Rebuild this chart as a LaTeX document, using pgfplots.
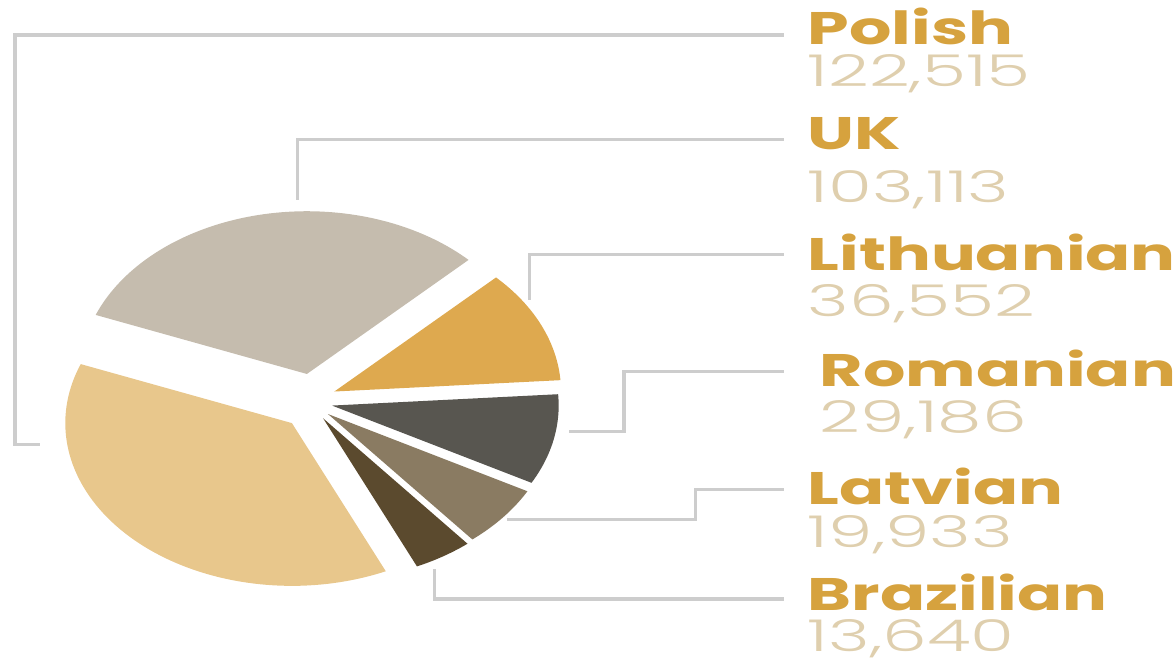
\documentclass[border=0pt]{standalone}
\usepackage{pgfplots}
\pgfplotsset{compat=1.18}
\usepackage{fontspec}
\setmainfont{Poppins}
\newfontfamily\namefont{Poppins}[UprightFont={* Bold}]
\newfontfamily\numfont{Poppins}[UprightFont={* Light}]
\definecolor{cPol}{HTML}{E8C78C}
\definecolor{cUK}{HTML}{C5BCAE}
\definecolor{cLit}{HTML}{DEA94F}
\definecolor{cRom}{HTML}{585650}
\definecolor{cLat}{HTML}{8A7B62}
\definecolor{cBra}{HTML}{5B4A2E}
\definecolor{cName}{HTML}{D6A23E}
\definecolor{cNum}{HTML}{DFCFAE}
\definecolor{cLead}{HTML}{CDCDCD}
% data
\newcommand\vPol{122515}
\newcommand\vUK{103113}
\newcommand\vLit{36552}
\newcommand\vRom{29186}
\newcommand\vLat{19933}
\newcommand\vBra{13640}
\edef\tot{\fpeval{\vPol+\vUK+\vLit+\vRom+\vLat+\vBra}}
\edef\aA{4}
\edef\aB{\fpeval{round(\aA+360*\vLit/\tot,4)}}
\edef\aC{\fpeval{round(\aB+360*\vUK/\tot,4)}}
\edef\aD{\fpeval{round(\aC+360*\vPol/\tot,4)}}
\edef\aE{\fpeval{round(\aD+360*\vBra/\tot,4)}}
\edef\aF{\fpeval{round(\aE+360*\vLat/\tot,4)}}
\edef\aG{\fpeval{round(\aF+360*\vRom/\tot,4)}}
% #1 start, #2 end, #3 explode, #4 colour
\newcommand\slice[4]{%
  \addplot[fill=#4, draw=none, domain=#1:#2, samples=80, variable=\t]
   ({313+#3*cos((#1+#2)/2)+227*cos(\t)}, {265+#3*sin((#1+#2)/2)+163*sin(\t)})
   -- (axis cs:{313+#3*cos((#1+#2)/2)},{265+#3*sin((#1+#2)/2)}) -- cycle;}
\begin{document}
\begin{tikzpicture}
\begin{axis}[scale only axis, width=11.76cm, height=6.67cm,
  xmin=0, xmax=1176, ymin=0, ymax=667, hide axis, clip=false]
\addplot[draw=none] coordinates {(0,0) (1176,667)};
\slice{\aA}{\aB}{24}{cLit}
\slice{\aB}{\aC}{28}{cUK}
\slice{\aC}{\aD}{30}{cPol}
\slice{\aD}{\aE}{20}{cBra}
\slice{\aE}{\aF}{20}{cLat}
\slice{\aF}{\aG}{20}{cRom}
% leader lines
\addplot[cLead, line width=0.9pt] coordinates {(40,222) (15,222) (15,632) (785,632)};
\addplot[cLead, line width=0.9pt] coordinates {(298,467) (298,527) (785,527)};
\addplot[cLead, line width=0.9pt] coordinates {(530,367) (530,412) (785,412)};
\addplot[cLead, line width=0.9pt] coordinates {(570,235) (625,235) (625,295) (785,295)};
\addplot[cLead, line width=0.9pt] coordinates {(508,147) (697,147) (697,177) (785,177)};
\addplot[cLead, line width=0.9pt] coordinates {(435,97) (435,67) (785,67)};
% labels
\tikzset{nm/.style={anchor=base west, inner sep=0pt, xscale=1.46, text=cName, font=\namefont\fontsize{13}{13}\selectfont},
         nu/.style={anchor=base west, inner sep=0pt, xscale=1.62, text=cNum, font=\numfont\fontsize{12.5}{12.5}\selectfont}}
\node[nm] at (axis cs:808,622) {Polish};
\node[nu] at (axis cs:808,580) {122,515};
\node[nm] at (axis cs:808,517) {UK};
\node[nu] at (axis cs:808,464) {103,113};
\node[nm] at (axis cs:808,396) {Lithuanian};
\node[nu] at (axis cs:808,350) {36,552};
\node[nm] at (axis cs:820,280) {Romanian};
\node[nu] at (axis cs:820,234) {29,186};
\node[nm] at (axis cs:808,162) {Latvian};
\node[nu] at (axis cs:808,119) {19,933};
\node[nm] at (axis cs:808,56) {Brazilian};
\node[nu] at (axis cs:808,14) {13,640};
\end{axis}
\end{tikzpicture}
\end{document}
